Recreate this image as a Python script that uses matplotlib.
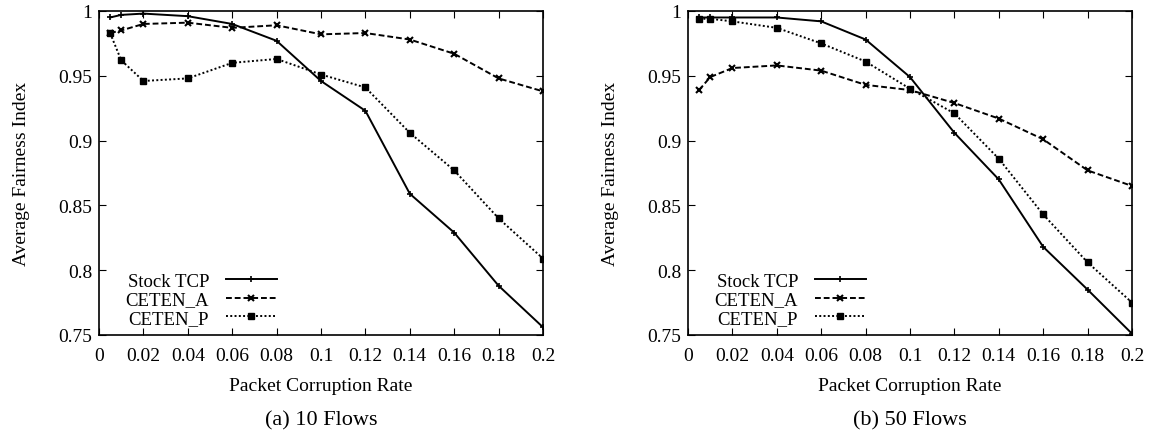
import numpy as np
import matplotlib.pyplot as plt

plt.rcParams['font.family'] = ['Liberation Serif', 'DejaVu Serif']

# packet corruption rates
rates = [0.005, 0.01, 0.02, 0.04, 0.06, 0.08, 0.1, 0.12, 0.14, 0.16, 0.18, 0.2]

# (a) 10 flows
tcp_10 = [0.995, 0.997, 0.998, 0.996, 0.990, 0.977, 0.946, 0.923, 0.859, 0.829, 0.788, 0.756]
cetenA_10 = [0.983, 0.985, 0.990, 0.991, 0.987, 0.989, 0.982, 0.983, 0.978, 0.967, 0.948, 0.938]
cetenP_10 = [0.983, 0.962, 0.946, 0.948, 0.960, 0.963, 0.951, 0.941, 0.906, 0.877, 0.840, 0.809]

# (b) 50 flows
tcp_50 = [0.995, 0.995, 0.995, 0.995, 0.992, 0.978, 0.949, 0.906, 0.870, 0.818, 0.785, 0.751]
cetenA_50 = [0.939, 0.949, 0.956, 0.958, 0.954, 0.943, 0.939, 0.929, 0.917, 0.901, 0.877, 0.865]
cetenP_50 = [0.994, 0.994, 0.992, 0.987, 0.975, 0.961, 0.940, 0.921, 0.886, 0.843, 0.806, 0.775]

xticks = [0, 0.02, 0.04, 0.06, 0.08, 0.1, 0.12, 0.14, 0.16, 0.18, 0.2]
xticklabels = ['0', '0.02', '0.04', '0.06', '0.08', '0.1', '0.12', '0.14', '0.16', '0.18', '0.2']
yticks = [0.75, 0.8, 0.85, 0.9, 0.95, 1.0]
yticklabels = ['0.75', '0.8', '0.85', '0.9', '0.95', '1']

names = ['Stock TCP', 'CETEN_A', 'CETEN_P']
captions = ['(a) 10 Flows', '(b) 50 Flows']

fig = plt.figure(figsize=(11.49, 4.31), dpi=100)
ax1 = fig.add_axes([99/1149, 1 - 336/431, 444/1149, 324/431])
ax2 = fig.add_axes([688/1149, 1 - 336/431, 444/1149, 324/431])

for ax, series, cap in [(ax1, (tcp_10, cetenA_10, cetenP_10), captions[0]),
                        (ax2, (tcp_50, cetenA_50, cetenP_50), captions[1])]:
    ax.plot(rates, series[0], color='black', lw=1.4, ls='-', marker='+', ms=5, mew=1.2, label=names[0])
    ax.plot(rates, series[1], color='black', lw=1.4, ls=(0, (3, 1.5)), marker='x', ms=5, mew=1.5, label=names[1])
    ax.plot(rates, series[2], color='black', lw=1.4, ls=(0, (1, 1.2)), marker='s', ms=4, label=names[2])
    ax.set_xlim(0, 0.2)
    ax.set_ylim(0.75, 1.0)
    ax.set_xticks(xticks)
    ax.set_xticklabels(xticklabels)
    ax.set_yticks(yticks)
    ax.set_yticklabels(yticklabels)
    ax.tick_params(direction='in', top=True, right=True, length=5, labelsize=14)
    ax.tick_params(axis='x', pad=9)
    ax.tick_params(axis='y', pad=5)
    for s in ax.spines.values():
        s.set_linewidth(1.2)
    ax.set_xlabel('Packet Corruption Rate', fontsize=14)
    ax.xaxis.set_label_coords(0.5, -0.157)
    ax.xaxis.label.set_va('center')
    ax.set_ylabel('Average Fairness Index', fontsize=14)
    ax.yaxis.set_label_coords(-0.175, 0.5)
    ax.yaxis.label.set_va('center')
    ax.legend(loc='lower right', bbox_to_anchor=(0.40, 0.025), frameon=False, markerfirst=False,
              fontsize=13.5, handlelength=2.7, labelspacing=0.08, handletextpad=0.9,
              borderpad=0, borderaxespad=0)
    ax.text(0.5, -0.262, cap, transform=ax.transAxes, ha='center', va='center', fontsize=16)

fig.savefig('out.png', dpi=100)
